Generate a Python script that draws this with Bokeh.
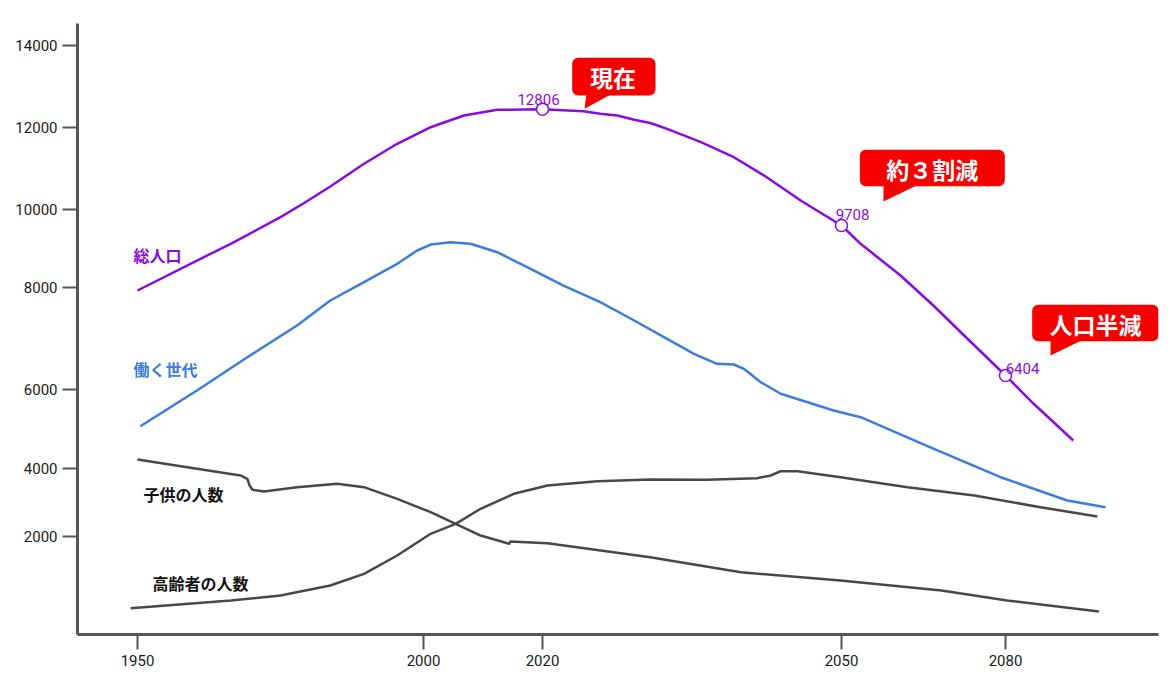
import numpy as np
from bokeh.plotting import figure
from bokeh.models import Range1d, FixedTicker
from bokeh.core.properties import value
from bokeh.embed import file_html
from bokeh.resources import INLINE

# ---------------- data ----------------
TICK_YEARS = [1950, 2000, 2020, 2050, 2080]
TICK_LABELS = ["1950", "2000", "2020", "2050", "2080"]
Y_TICK_LABELS = ["2000", "4000", "6000", "8000", "10000", "12000", "14000"]

# 総人口
total_years = [1950, 1960.4, 1966.3, 1975.0, 1979.0, 1983.7, 1989.6, 1995.4, 2001.2, 2006.8,
               2012.4, 2020, 2024.1, 2025.8, 2027.5, 2029.2, 2030.9, 2032.5, 2035.9, 2039.2,
               2042.5, 2045.9, 2050, 2053.5, 2060.8, 2066.8, 2073.0, 2080, 2085.1, 2092.4]
total_vals = [8012, 8745, 9153, 9804, 10138, 10554, 11109, 11598, 12003, 12289,
              12428, 12440, 12394, 12331, 12289, 12184, 12101, 11964, 11637, 11270,
              10781, 10212, 9601, 9153, 8379, 7646, 6839, 5935, 5250, 4346]

# 働く世代
work_years = [1950.5, 1960.4, 1969.2, 1977.9, 1983.7, 1989.6, 1995.4, 1998.9, 2001.2, 2004.5,
              2007.9, 2012.4, 2018.0, 2022.1, 2025.8, 2029.2, 2032.5, 2035.2, 2037.5, 2039.2,
              2040.2, 2041.9, 2043.9, 2046.6, 2049.2, 2053.5, 2066.9, 2079.1, 2091.3, 2098.3]
work_vals = [4696, 5568, 6382, 7157, 7768, 8215, 8665, 8990, 9136, 9193,
             9154, 8948, 8542, 8134, 7726, 7279, 6832, 6465, 6221, 6204,
             6098, 5771, 5488, 5282, 5079, 4916, 4143, 3449, 2880, 2716]

# 子供の人数
child_years = [1950, 1960.4, 1968.0, 1969.2, 1969.6, 1970.1, 1972.1, 1977.9, 1984.9, 1989.6,
               1995.4, 2001.2, 2005.4, 2009.6, 2014.4, 2014.6, 2020.5, 2030.8, 2039.9, 2049.9,
               2068.3, 2080.3, 2097.1]
child_vals = [3882, 3655, 3491, 3410, 3246, 3141, 3100, 3205, 3288, 3205,
              2921, 2594, 2310, 2024, 1822, 1878, 1836, 1494, 1127, 924,
              680, 436, 167]

# 高齢者の人数
elder_years = [1948.8, 1966.3, 1975.0, 1983.7, 1989.6, 1995.4, 2001.2, 2005.4, 2009.6, 2015.2,
               2020.5, 2025.5, 2030.8, 2036.5, 2041.5, 2042.9, 2043.9, 2045.6, 2049.9, 2062.1,
               2074.3, 2086.4, 2096.8]
elder_vals = [248, 436, 558, 802, 1088, 1536, 2066, 2310, 2677, 3043,
              3246, 3351, 3393, 3386, 3425, 3491, 3596, 3596, 3449, 3205,
              3002, 2716, 2489]

# highlighted points on 総人口
mark_years = [2020, 2050, 2080]
mark_vals = [12440, 9601, 5935]
mark_labels = ["12806", "9708", "6404"]

series_names = ["総人口", "働く世代", "子供の人数", "高齢者の人数"]
callout_texts = ["現在", "約３割減", "人口半減"]

# ---------------- layout / style ----------------
PURPLE = "#8a0be0"
BLUE = "#3c7ddb"
GRAY = "#484848"
RED = "#f70000"
AXIS = "#555555"
NUM_FONT = "Roboto"
JP_FONT = "Noto Sans CJK JP"

# the drawn year axis is not evenly spaced: year -> axis position
AXIS_YEARS = [1940, 1950, 2000, 2020, 2050, 2080, 2100]
AXIS_POS = [2.8, 60, 346, 465, 764, 928, 1037.3]
# y tick marks as drawn on the axis
Y_TICK_POS = [2000, 3655, 5585, 8093, 10000, 12000, 14000]


def to_pos(years):
    return np.interp(years, AXIS_YEARS, AXIS_POS)


# helpers for placing decorations (canvas pixel -> data)
def fx(px):
    return px - 77


def fy(py):
    return 14000 - (py - 45) * 24.44


p = figure(width=1168, height=684, output_backend="svg", toolbar_location=None,
           x_range=Range1d(0, 1081), y_range=Range1d(fy(634), fy(23)),
           min_border_left=77, min_border_right=10, min_border_top=23, min_border_bottom=50)
p.grid.visible = False
p.outline_line_color = None

tick_pos = [float(v) for v in to_pos(TICK_YEARS)]
p.xaxis.ticker = FixedTicker(ticks=tick_pos)
p.xaxis.major_label_overrides = {t: l for t, l in zip(tick_pos, TICK_LABELS)}
p.yaxis.ticker = FixedTicker(ticks=Y_TICK_POS)
p.yaxis.major_label_overrides = {float(t): l for t, l in zip(Y_TICK_POS, Y_TICK_LABELS)}

for ax in (p.xaxis, p.yaxis):
    ax.axis_line_color = AXIS
    ax.axis_line_width = 3
    ax.major_tick_line_color = AXIS
    ax.major_tick_line_width = 2
    ax.major_tick_in = 0
    ax.minor_tick_line_color = None
    ax.major_label_text_font = NUM_FONT
    ax.major_label_text_font_size = "15px"
    ax.major_label_text_color = "#1a1a1a"
p.yaxis.major_tick_out = 15
p.yaxis.major_label_standoff = 5
p.xaxis.major_tick_out = 15
p.xaxis.major_label_standoff = 5

# lines
p.line(to_pos(total_years), total_vals, line_color=PURPLE, line_width=2.5, line_join="round")
p.line(to_pos(work_years), work_vals, line_color=BLUE, line_width=2.5, line_join="round")
p.line(to_pos(child_years), child_vals, line_color=GRAY, line_width=2.5, line_join="round")
p.line(to_pos(elder_years), elder_vals, line_color=GRAY, line_width=2.5, line_join="round")

# markers + value labels
p.scatter(to_pos(mark_years), mark_vals, size=12, fill_color="white",
          line_color=PURPLE, line_width=1.5)
p.text(to_pos(mark_years), mark_vals, text=mark_labels,
       x_offset=[-4, 11, 17], y_offset=[-10, -11, -7],
       text_font=value(NUM_FONT), text_font_size="15px", text_color=PURPLE,
       text_align="center", text_baseline="alphabetic")

# series labels
p.text([fx(133), fx(133), fx(143), fx(152)], [fy(254), fy(368), fy(493), fy(582)],
       text=series_names, text_color=[PURPLE, BLUE, "#111111", "#111111"],
       text_font=value(JP_FONT), text_font_style="bold", text_font_size="16px",
       text_align="left", text_baseline="middle")

# callouts
box_l = [571.7, 859.3, 1031.7]
box_r = [655, 1004.3, 1158]
box_t = [57.3, 149.3, 304.3]
box_b = [95, 185.7, 340.7]
p.quad(left=[fx(v) for v in box_l], right=[fx(v) for v in box_r],
       top=[fy(v) for v in box_t], bottom=[fy(v) for v in box_b],
       fill_color=RED, line_color=None, border_radius=6)
tails_x = [[586, 584, 612], [883, 883, 918], [1050, 1050, 1083]]
tails_y = [[93, 108.3, 93], [184, 201, 184], [339, 355, 339]]
p.patches([[fx(v) for v in xs] for xs in tails_x], [[fy(v) for v in ys] for ys in tails_y],
          fill_color=RED, line_color=None)
p.text([fx(612.5), fx(931.7), fx(1095)], [fy(76.5), fy(168), fy(323)], text=callout_texts,
       text_color="white", text_font=value(JP_FONT), text_font_style="bold",
       text_font_size="23px", text_align="center", text_baseline="middle")

open("out.html", "w").write(file_html(p, INLINE))
